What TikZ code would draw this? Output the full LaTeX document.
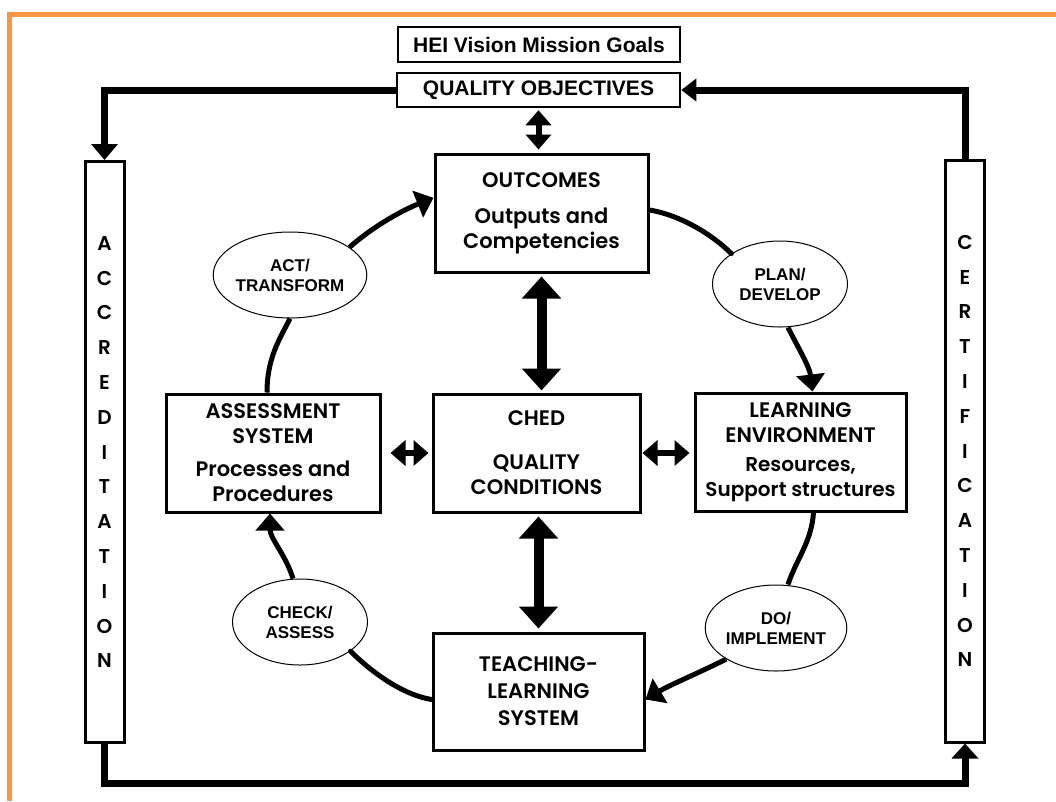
\documentclass[tikz,border=0pt]{standalone}
\usepackage{fontspec}
\setmainfont{Poppins}[BoldFont={Poppins SemiBold}]
\newfontfamily\labf{Liberation Sans}
\usetikzlibrary{arrows.meta,shapes.geometric}
\definecolor{frameorange}{RGB}{247,150,70}
\begin{document}
\begin{tikzpicture}[x=1pt,y=-1pt,
  box/.style={draw,line width=3pt,rectangle,inner sep=0pt,align=center,font=\bfseries\fontsize{21}{25}\selectfont},
  topbox/.style={draw,line width=2.5pt,rectangle,inner sep=0pt,font=\labf\bfseries\fontsize{21}{24}\selectfont},
  bar/.style={draw,line width=3pt,rectangle,inner sep=0pt,minimum width=39pt,minimum height=581pt,align=center,font=\bfseries\fontsize{20}{34.8}\selectfont},
  pdca/.style={ellipse,draw,line width=1pt,inner sep=0pt,minimum width=135pt,minimum height=86pt,align=center,font=\labf\bfseries\fontsize{17}{20}\selectfont},
  loopline/.style={line width=7pt},
  flow/.style={line width=5pt},
  flowtip/.style={-{Triangle[width=28pt,length=17pt]}},
  dbl/.style={line width=10pt,{Triangle[width=38pt,length=22pt]}-{Triangle[width=38pt,length=22pt]}},
  sdbl/.style={line width=6pt,{Triangle[width=25pt,length=15pt]}-{Triangle[width=25pt,length=15pt]}}
]
\useasboundingbox (0,0) rectangle (1056,801);
\fill[white] (0,0) rectangle (1056,801);
\draw[frameorange,line width=5pt] (9.5,801) -- (9.5,14.5) -- (1056,14.5);

% top boxes
\node[topbox,minimum width=282pt,minimum height=35pt] (hei) at (539,44.5) {HEI Vision Mission Goals};
\node[topbox,minimum width=283pt,minimum height=34pt] (qo) at (538.5,90) {QUALITY OBJECTIVES};

% side bars
\node[bar] (acc) at (104.5,452) {A\\C\\C\\R\\E\\D\\I\\T\\A\\T\\I\\O\\N};
\node[bar,minimum height=582pt] (cert) at (965,451) {C\\E\\R\\T\\I\\F\\I\\C\\A\\T\\I\\O\\N};

% main boxes
\node[box,minimum width=213pt,minimum height=118pt] (out) at (541.5,213)
  {OUTCOMES\\[11pt]Outputs and\\Competencies};
\node[box,minimum width=207pt,minimum height=118pt] (ched) at (536.5,453)
  {CHED\\[19pt]QUALITY\\CONDITIONS};
\node[box,minimum width=214pt,minimum height=118pt] (ass) at (273,453)
  {ASSESSMENT\\SYSTEM\\[8pt]Processes and\\Procedures};
\node[box,minimum width=211pt,minimum height=118pt] (lrn) at (800.5,452)
  {LEARNING\\ENVIRONMENT\\[4pt]{\fontsize{20}{25}\selectfont Resources,}\\{\fontsize{20}{25}\selectfont Support structures}};
\node[box,minimum width=211pt,minimum height=117pt,font=\bfseries\fontsize{21}{27}\selectfont] (tls) at (538.5,691.5)
  {TEACHING-\\LEARNING\\SYSTEM};

% PDCA ellipses
\node[pdca] (act) at (290,275) {ACT/\\TRANSFORM};
\node[pdca] (plan) at (780,284) {PLAN/\\DEVELOP};
\node[pdca] (chk) at (300,622) {CHECK/\\ASSESS};
\node[pdca] (doimp) at (776,628) {DO/\\IMPLEMENT};

% outer loop
\coordinate (bl) at (300,783);
\draw[loopline,-{Triangle[width=26pt,length=16pt]}] (qo.west) -| (acc.north);
\draw[loopline,-{Triangle[width=22pt,length=15pt]}] (cert.north) |- (qo.east);
\draw[loopline,-{Triangle[width=26pt,length=15pt]}] (acc.south) |- (bl) -| (cert.south);

% double arrows
\draw[sdbl,shorten <=2pt,shorten >=3pt] (qo.south) -- (qo.south |- out.north);
\draw[dbl,shorten <=3pt,shorten >=2pt] (out.south) -- (out.south |- ched.north);
\draw[dbl,shorten <=3pt,shorten >=3pt] (tls.north |- ched.south) -- (tls.north);
\draw[sdbl,shorten <=9pt,shorten >=3pt] (ass.east) -- (ched.west);
\draw[sdbl,shorten <=1pt,shorten >=4pt] (ched.east) -- (ched.east -| lrn.west);

% PDCA cycle
\draw[flow,flowtip] (act.25) .. controls +(25,-22) and +(-30,12) .. (out.172);
\draw[flow,line cap=round] ([yshift=3pt]out.east) .. controls +(30,5) and +(-20,-20) .. (plan.148);
\draw[flow,flowtip] ([xshift=8pt]plan.south) .. controls +(10,20) and +(-3,-25) .. ([xshift=12pt]lrn.north);
\draw[flow] ([xshift=13pt]lrn.south) .. controls +(-2,30) and +(8,-25) .. ([xshift=12pt]doimp.north);
\draw[flow,flowtip] (doimp.212) .. controls +(-30,15) and +(25,-15) .. ([yshift=-8pt]tls.east);
\draw[flow,line cap=round] ([yshift=-8pt]tls.west) .. controls +(-30,-5) and +(20,20) .. (chk.330);
\draw[flow,flowtip] ([xshift=-7pt]chk.north) .. controls +(-8,-25) and +(0,25) .. ([xshift=-3pt]ass.south);
\draw[flow] ([xshift=-6pt]ass.north) .. controls +(0,-35) and +(-10,20) .. (act.south);
\end{tikzpicture}
\end{document}
